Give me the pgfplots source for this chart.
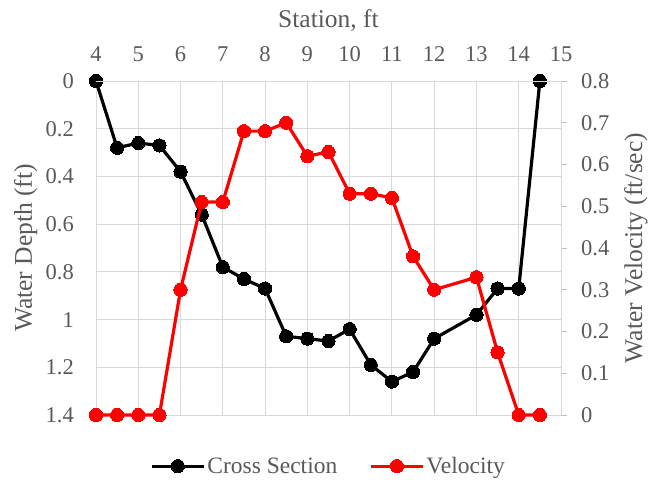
\documentclass[border=0pt]{standalone}
\usepackage{fontspec}
\setmainfont{Liberation Serif}
\usepackage{pgfplots}
\pgfplotsset{compat=1.18}
\definecolor{txt}{HTML}{595959}
\definecolor{grd}{HTML}{D9D9D9}
\definecolor{axl}{HTML}{BFBFBF}
\definecolor{vred}{HTML}{FF0000}
\newcommand{\tickfont}{\fontsize{22.5bp}{27bp}\selectfont}
\newcommand{\titlefont}{\fontsize{25.5bp}{30bp}\selectfont}
\newcommand{\legfont}{\fontsize{23.5bp}{28bp}\selectfont}
\pgfplotsset{
  common/.style={
    at={(96bp,65bp)}, anchor=south west, scale only axis,
    width=465bp, height=334bp,
    xmin=4, xmax=15, clip=false,
    xtick={4,5,6,7,8,9,10,11,12,13,14,15},
    /pgf/number format/.cd, fixed, assume math mode=true, /pgfplots/.cd,
    tick label style={text=txt, font=\tickfont},
    label style={text=txt, font=\titlefont},
  },
  cs/.style={black, line width=3.2bp, mark=*, mark size=6.6bp, mark options={solid, fill=black, draw=black, line width=0pt}},
  vel/.style={vred, line width=3.2bp, mark=*, mark size=6.6bp, mark options={solid, fill=vred, draw=vred, line width=0pt}},
}
\begin{document}
\begin{tikzpicture}
\useasboundingbox (0,0) rectangle (662bp,480bp);
\begin{axis}[common,
  ymin=0, ymax=1.4, y dir=reverse,
  ytick={0,0.2,0.4,0.6,0.8,1,1.2,1.4},
  grid=major, major grid style={draw=grd, line width=1bp},
  axis line style={draw=grd, line width=1bp},
  major tick length=0pt, tick style={draw=none},
  xticklabel style={opacity=0},
  yticklabel style={anchor=east, inner xsep=0pt, xshift=-22bp},
  ylabel={Water Depth (ft)},
  ylabel style={at={(axis description cs:0,0.5)}, anchor=base, yshift=64bp},
]
\addplot[cs] coordinates {
(4,0) (4.5,0.28) (5,0.26) (5.5,0.27) (6,0.38) (6.5,0.56) (7,0.78) (7.5,0.83)
(8,0.87) (8.5,1.07) (9,1.08) (9.5,1.09) (10,1.04) (10.5,1.19) (11,1.26)
(11.5,1.22) (12,1.08) (13,0.98) (13.5,0.87) (14,0.87) (14.5,0)
};
\end{axis}
\begin{axis}[common,
  ymin=0, ymax=0.8,
  ytick={0,0.1,0.2,0.3,0.4,0.5,0.6,0.7,0.8},
  axis x line*=top, axis y line*=right,
  axis line style={-, draw=grd, line width=1bp},
  tick align=outside, major tick length=6bp,
  xtick style={draw=none}, ytick style={draw=axl, line width=1bp},
  xticklabel style={anchor=south, inner ysep=0pt, yshift=13bp},
  yticklabel style={anchor=west, inner xsep=0pt, xshift=14bp},
  xlabel={Station, ft},
  xlabel style={at={(axis description cs:0.5,1)}, anchor=base, yshift=54bp},
  ylabel={Water Velocity (ft/sec)},
  ylabel style={at={(axis description cs:1,0.5)}, anchor=base, yshift=-81bp},
  legend style={at={(axis description cs:0.5,-0.153)}, anchor=center, draw=none, fill=none,
    font=\legfont, text=txt, legend columns=2,
    /tikz/every even column/.append style={column sep=30bp}},
  legend cell align=left,
  legend image code/.code={\draw[mark repeat=2,mark phase=2,#1] plot coordinates {(0bp,0bp)(26bp,0bp)(52bp,0bp)};},
]
\addlegendimage{cs}
\addlegendentry{Cross Section}
\addplot[vel] coordinates {
(4,0) (4.5,0) (5,0) (5.5,0) (6,0.30) (6.5,0.51) (7,0.51) (7.5,0.68)
(8,0.68) (8.5,0.70) (9,0.62) (9.5,0.63) (10,0.53) (10.5,0.53) (11,0.52)
(11.5,0.38) (12,0.30) (13,0.33) (13.5,0.15) (14,0) (14.5,0)
};
\addlegendentry{Velocity}
\end{axis}
\end{tikzpicture}
\end{document}
